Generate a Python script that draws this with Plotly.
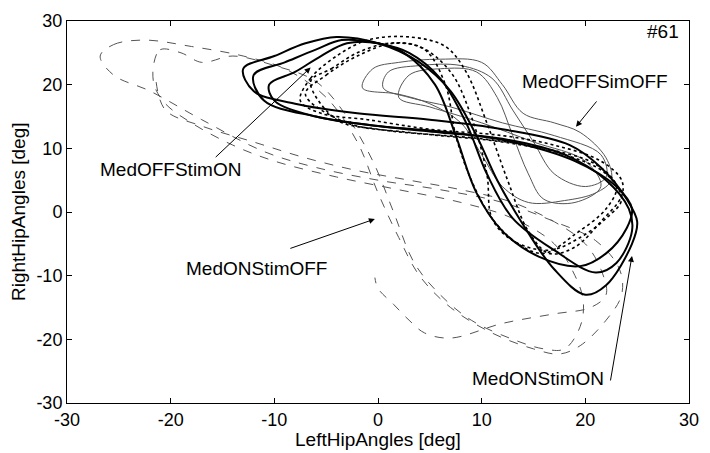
import plotly.graph_objects as go

# ---------------- data (LeftHipAngles, RightHipAngles) ----------------
# MedONStimON (thick solid black)
on_on_x1 = [-13, -10, -7, -4, 0, 4, 7, 9.5, 11.5, 14, 17, 20, 22, 24.5, 25, 24, 21.5, 18.5, 12, 5, -2, -8, -12, -13]
on_on_y1 = [22.5, 24.5, 26.5, 27.5, 26.5, 23.5, 19, 12, 5, -2, -9, -13, -11.5, -5, -1.5, 2, 7, 10.5, 13, 14.5, 15.5, 17, 19, 22.5]
on_on_x2 = [-12, -9, -6, -3.5, 0, 3, 6, 8.5, 10.5, 13, 17, 21, 23, 24.5, 24.2, 22, 18, 12, 6, 0, -6, -11, -12]
on_on_y2 = [21.5, 23.5, 25.5, 27, 26.5, 25, 21, 14, 6, -1, -6, -9.5, -8, -3, 0.5, 5, 9, 11.5, 12.5, 13.5, 15, 17.5, 21.5]
on_on_x3 = [-10.5, -8, -5.5, -3, 0, 2.5, 5.5, 7.5, 9.5, 12, 15.5, 19.5, 22, 24, 24.5, 23, 19, 13, 7, 0, -6, -10, -10.5]
on_on_y3 = [20, 22, 24.5, 26.5, 26.5, 25, 20, 12, 3, -3, -7, -8.5, -6.5, -2.5, 0.5, 4, 8, 11, 12.5, 13.5, 15, 17.5, 20]

# MedOFFStimON (dotted black)
off_on_x1 = [-7.5, -6.5, -4, -1, 3, 6.5, 8.5, 10.5, 12.5, 14.5, 16.5, 19, 21.5, 23.5, 23.5, 21.5, 17, 12, 5, -1, -5.5, -7.5]
off_on_y1 = [17.5, 21, 24.5, 27, 27.5, 26, 22, 14, 5, -3, -6.5, -5.5, -1.5, 2.5, 5, 8, 10.5, 12, 13, 14.5, 15.5, 17.5]
off_on_x2 = [-7, -5, -2, 1.5, 4.5, 6.5, 7.5, 9, 11, 13.5, 16, 19, 22, 23, 21, 16, 10, 3, -3, -7]
off_on_y2 = [18.5, 21.5, 24.5, 26.5, 25.5, 20, 12, 5, -1, -5, -6.5, -3.5, 0.5, 4, 7.5, 10, 11.5, 12.5, 14, 18.5]
off_on_x3 = [-6.5, -4.5, -2, 1, 4, 7, 9, 10.5, 11, 13, 16.5, 19.5, 22, 23.5, 22, 18, 12, 6, 0, -4, -6.5]
off_on_y3 = [20.5, 22.5, 25, 26.5, 26, 22, 15, 6, -1, -4.5, -6, -4, -1, 2, 6, 9, 11, 12, 13, 14.5, 20.5]

# MedOFFSimOFF (thin solid grey)
off_off_x1 = [-1.5, -0.5, 2, 6, 10, 12, 14, 17, 19.5, 22, 22.5, 21, 18, 14.5, 12, 10, 8, 5, 2, -1.5]
off_off_y1 = [19.5, 22.5, 23.5, 24, 23.5, 20, 15.5, 14, 12.5, 8.5, 5, 3, 1.8, 1.5, 4, 9, 14, 17, 18.5, 19.5]
off_off_x2 = [0.5, 1, 4, 8, 11, 13, 15, 17, 20, 22, 21.5, 17, 12, 7, 3, 0.5]
off_off_y2 = [19.5, 22, 23, 23, 21, 16, 11, 6, 4, 5.5, 9, 12, 14, 16.5, 18, 19.5]
off_off_x3 = [2, 3, 6, 9.5, 11.5, 13, 14.5, 16, 19, 21.5, 20, 15, 10, 5, 2]
off_off_y3 = [18, 21.5, 22.5, 22, 18, 12, 6, 2, 1.5, 4, 8, 11, 14, 16.5, 18]

# MedONStimOFF (dashed grey)
on_off_x1 = [-26.8, -25.5, -22.5, -18, -13, -9, -5, -2, 0, 2, 4, 7, 11, 15, 17.5, 19.5, 22, 23.5, 23.3, 21, 17, 12, 6, 0, -6, -11, -17, -22, -25.5, -26.8]
on_off_y1 = [24.5, 26.3, 27, 26, 24.5, 22.5, 18, 11, 3, -4, -10, -15, -19, -21.5, -22.3, -21, -17, -13, -9, -4.5, -1.5, 1.5, 3.5, 5, 7, 9.5, 14.5, 19, 21.5, 24.5]
on_off_x2 = [-21.6, -21, -19, -17, -14, -10, -6, -3, -0.5, 1.5, 3.5, 6, 9, 13, 16, 18, 19.5, 19.8, 19, 17, 13, 8, 2, -4, -10, -14, -18, -20.5, -21.6, -21.6]
on_off_y2 = [23.5, 25.5, 25, 23.5, 24.5, 23, 20.5, 15, 8, 0, -8, -13, -17, -20, -21.5, -21.5, -18, -14, -10, -5, -1, 1.5, 3.5, 5.5, 8, 10.5, 14, 17, 20, 23.5]
on_off_x3 = [-21.4, -20.5, -17, -12, -7, -2, 3, 8, 13, 17.5, 20, 21.5, 22, 20.5, 17, 12, 7, 4.5, 3, 1.5, 0, -0.3]
on_off_y3 = [20.4, 16, 13.5, 11, 8.5, 6.5, 5, 3.5, 1.5, -2, -5, -9, -13, -15, -16, -17.5, -19.8, -19, -17, -14.5, -12, -10.3]

labels = ["MedOFFSimOFF", "MedOFFStimON", "MedONStimOFF", "MedONStimON", "#61"]
label_x = [20.9, -20.0, -11.7, 15.4, 27.5]
label_y = [20.5, 6.7, -8.8, -26.2, 28.4]
arrow_tail_x = [21.2, -15.8, -8.6, 22.4]
arrow_tail_y = [17.6, 8.4, -5.8, -26.7]
arrow_head_x = [19.1, -6.5, -0.3, 24.5]
arrow_head_y = [13.4, 22.7, -1.1, -6.9]

x_ticks = [-30, -20, -10, 0, 10, 20, 30]
y_ticks = [-30, -20, -10, 0, 10, 20, 30]
x_tick_text = ["-30", "-20", "-10", "0", "10", "20", "30"]
y_tick_text = ["-30", "-20", "-10", "0", "10", "20", "30"]
x_title = "LeftHipAngles [deg]"
y_title = "RightHipAngles [deg]"

FONT = "Liberation Sans, Arial, sans-serif"

fig = go.Figure()

def add(xs, ys, color, width, dash):
    fig.add_trace(go.Scatter(x=xs, y=ys, mode="lines",
                             line=dict(color=color, width=width, dash=dash, shape="spline", smoothing=1.0),
                             showlegend=False, hoverinfo="skip"))

for xs, ys in [(on_off_x1, on_off_y1), (on_off_x2, on_off_y2), (on_off_x3, on_off_y3)]:
    add(xs, ys, "#555555", 1, "dash")
for xs, ys in [(off_off_x1, off_off_y1), (off_off_x2, off_off_y2), (off_off_x3, off_off_y3)]:
    add(xs, ys, "#555555", 1, "solid")
for xs, ys in [(off_on_x1, off_on_y1), (off_on_x2, off_on_y2), (off_on_x3, off_on_y3)]:
    add(xs, ys, "#000000", 1.6, "dot")
for xs, ys in [(on_on_x1, on_on_y1), (on_on_x2, on_on_y2), (on_on_x3, on_on_y3)]:
    add(xs, ys, "#000000", 2, "solid")

for i in range(4):
    fig.add_annotation(x=arrow_head_x[i], y=arrow_head_y[i], ax=arrow_tail_x[i], ay=arrow_tail_y[i],
                       xref="x", yref="y", axref="x", ayref="y", text="", showarrow=True,
                       arrowhead=2, arrowsize=1.2, arrowwidth=1, arrowcolor="black")
for i in range(5):
    fig.add_annotation(x=label_x[i], y=label_y[i], xref="x", yref="y", text=labels[i],
                       showarrow=False, font=dict(family=FONT, size=19, color="black"))

fig.add_annotation(x=0.5, y=0, xref="paper", yref="paper", text=x_title, showarrow=False,
                   xanchor="center", yanchor="top", yshift=-24,
                   font=dict(family=FONT, size=19, color="black"))
fig.add_annotation(x=0, y=0.5, xref="paper", yref="paper", text=y_title, showarrow=False,
                   textangle=-90, xanchor="center", yanchor="middle", xshift=-49,
                   font=dict(family=FONT, size=19, color="black"))

axis_common = dict(range=[-30, 30], ticks="inside", ticklen=5, tickcolor="black",
                   showline=True, linecolor="black", linewidth=1, mirror="ticks", showgrid=False,
                   zeroline=False, tickfont=dict(family=FONT, size=18, color="black"))
fig.update_layout(
    width=710, height=453, margin=dict(l=67, r=11, t=18, b=50),
    paper_bgcolor="white", plot_bgcolor="white",
    xaxis=dict(axis_common, tickvals=x_ticks, ticktext=x_tick_text),
    yaxis=dict(axis_common, tickvals=y_ticks, ticktext=y_tick_text),
)
fig.write_html("out.html", config={"displayModeBar": False},
               post_script="document.body.style.margin='0';document.body.style.overflow='hidden';")
